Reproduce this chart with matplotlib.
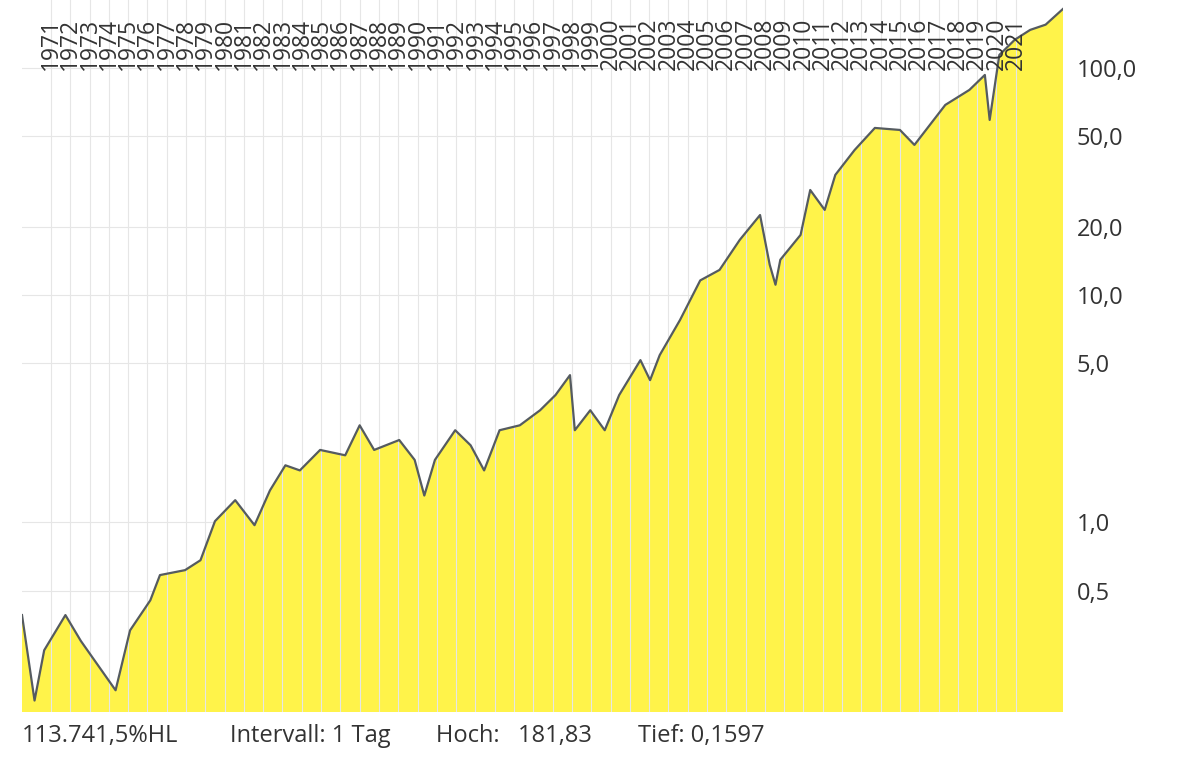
import matplotlib
matplotlib.use("Agg")
import matplotlib.pyplot as plt
from matplotlib.ticker import FixedLocator, NullLocator

plt.rcParams['font.family'] = ['Open Sans', 'DejaVu Sans']

years = [1969.25, 1969.9, 1970.4, 1971.5, 1972.3, 1973.0, 1974.1, 1974.85, 1975.9, 1976.4,
         1977.7, 1978.5, 1979.25, 1980.3, 1981.3, 1982.1, 1982.9, 1983.65, 1984.7, 1986.0,
         1986.75, 1987.5, 1988.8, 1989.6, 1990.1, 1990.65, 1991.7, 1992.5, 1993.2, 1994.0,
         1995.05, 1996.1, 1996.9, 1997.65, 1997.9, 1998.7, 1999.45, 2000.2, 2001.3, 2001.8,
         2002.3, 2003.35, 2004.4, 2005.4, 2006.45, 2007.5, 2008.0, 2008.3, 2008.55, 2009.6,
         2010.1, 2010.85, 2011.4, 2012.4, 2013.45, 2014.75, 2015.5, 2016.3, 2017.1, 2018.35,
         2019.15, 2019.4, 2019.9, 2020.7, 2021.5, 2022.3, 2023.2]
values = [0.39, 0.164, 0.273, 0.39, 0.30, 0.247, 0.182, 0.334, 0.453, 0.585,
          0.615, 0.68, 1.01, 1.25, 0.97, 1.38, 1.78, 1.69, 2.08, 1.97,
          2.67, 2.08, 2.30, 1.88, 1.31, 1.88, 2.54, 2.18, 1.69, 2.54,
          2.67, 3.11, 3.63, 4.44, 2.54, 3.11, 2.54, 3.63, 5.17, 4.22,
          5.44, 7.76, 11.6, 12.9, 17.5, 22.5, 13.6, 11.1, 14.3, 18.4,
          29.0, 23.7, 33.8, 43.5, 54.4, 53.3, 45.8, 56.1, 68.7, 80.0,
          93.1, 59.0, 114, 133, 147, 155, 181.83]
year_labels = list(range(1971, 2022))
ytick_vals = [0.5, 1, 5, 10, 20, 50, 100]
ytick_labels = ["0,5", "1,0", "5,0", "10,0", "20,0", "50,0", "100,0"]
footer = ["113.741,5%HL", "Intervall: 1 Tag", "Hoch:   181,83", "Tief: 0,1597"]

fig = plt.figure(figsize=(11.78, 7.58), dpi=100)
ax = fig.add_axes([22/1178, 46/758, (1063-22)/1178, 712/758])
ax.set_yscale('log')
ax.set_xlim(1969.25, 2023.2)
ax.set_ylim(0.146, 199)
ax.fill_between(years, values, 1e-3, color='#fff34a', linewidth=0, zorder=1)
ax.plot(years, values, color='#555b60', linewidth=1.6, zorder=3)
for y in year_labels:
    ax.axvline(y - 0.25, color='#e6e6e6', linewidth=0.8, zorder=2)
for v in ytick_vals:
    ax.axhline(v, color='#e6e6e6', linewidth=0.8, zorder=0)
ax.yaxis.tick_right()
ax.yaxis.set_major_locator(FixedLocator(ytick_vals))
ax.yaxis.set_minor_locator(NullLocator())
ax.set_yticklabels(ytick_labels, fontsize=17, color='#333333')
ax.tick_params(axis='y', length=0, pad=10)
ax.set_xticks([])
for s in ax.spines.values():
    s.set_visible(False)
for y in year_labels:
    ax.text(y - 0.25, 0.902, str(y), rotation=90, ha='center', va='bottom',
            fontsize=16.5, color='#333333', transform=ax.get_xaxis_transform(), zorder=4)
xs = [22, 230, 436, 638]
for x, t in zip(xs, footer):
    fig.text(x/1178, 1 - 736/758, t, fontsize=17, color='#333333', va='center')
fig.savefig('out.png', dpi=100)
